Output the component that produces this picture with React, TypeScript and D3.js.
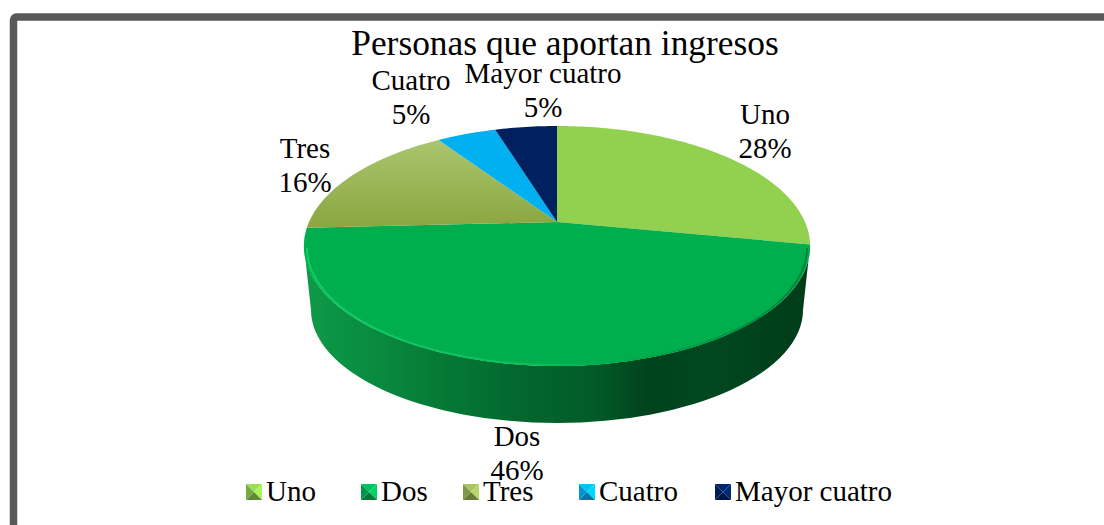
import React from "react";
import * as d3 from "d3";

const categories = ["Uno", "Dos", "Tres", "Cuatro", "Mayor cuatro"];
const values = [28, 46.2, 16.4, 4.6, 4.8];
const percentLabels = ["28%", "46%", "16%", "5%", "5%"];
const topColors = ["#92D050", "#00AE4D", "url(#tresGrad)", "#00B0F0", "#002060"];
const legendBase = ["#84BE48", "#00A650", "#8FA94E", "#00A8E8", "#002060"];
const labelCenters = [765, 517, 305, 411, 543];
const labelBaselines = [124, 446, 158, 90, 83];
const legendIconX = [246, 361, 463, 579, 715];

const W = 1104, H = 525;
const cx = 557, apexY = 222, a = 248, b = 115.2, k = 0.2;

// perspective projection of a point on the unit pie disc
const project = (theta: number, r = 1): [number, number] => {
  const x = r * Math.sin(theta);
  const y = -r * Math.cos(theta);
  const w = 1 - k * y;
  return [cx + (a * x) / w, apexY + (b * y) / w];
};

const arcs = d3.pie<number>().sort(null).startAngle(0).endAngle(2 * Math.PI)(values);
const line = d3.line();

const slicePath = (s: number, e: number) => {
  const n = Math.max(4, Math.ceil((e - s) / 0.02));
  const pts: [number, number][] = [[cx, apexY]];
  d3.range(n + 1).forEach((i) => pts.push(project(s + ((e - s) * i) / n)));
  return line(pts) + "Z";
};

const rimY = 246, rimRx = 253, rimRy = 120;
const baseY = 310, baseRx = 246, baseRy = 113;
const wallPath =
  `M${cx + rimRx},${rimY}A${rimRx},${rimRy} 0 0 1 ${cx - rimRx},${rimY}` +
  `L${cx - baseRx},${baseY}A${baseRx},${baseRy} 0 0 0 ${cx + baseRx},${baseY}Z`;
const rimFront = `M${cx + rimRx - 3},${rimY + 2}A${rimRx - 3},${rimRy - 3} 0 0 1 ${cx - rimRx + 3},${rimY + 2}`;

const wallStops: [number, string][] = [
  [0, "#0E9A48"], [0.1, "#0A8F42"], [0.25, "#067C38"], [0.42, "#03682E"],
  [0.58, "#025A28"], [0.68, "#00421C"], [0.8, "#00481F"], [1, "#003C18"],
];

const textStyle = { fontFamily: "'Liberation Serif', serif", fill: "#000" };

function LegendIcon({ x, y, c }: { x: number; y: number; c: string }) {
  const s = 16, col = d3.color(c)!;
  const m = 8;
  const tri = (p: number[][], f: string) => <polygon points={p.map((q) => q.join(",")).join(" ")} fill={f} />;
  return (
    <g transform={`translate(${x},${y})`}>
      {tri([[0, 0], [s, 0], [m, m]], col.brighter(0.45).toString())}
      {tri([[0, 0], [0, s], [m, m]], col.darker(0.3).toString())}
      {tri([[s, 0], [s, s], [m, m]], col.brighter(0.7).toString())}
      {tri([[0, s], [s, s], [m, m]], col.darker(0.9).toString())}
    </g>
  );
}

export default function App() {
  return (
    <svg width={W} height={H} viewBox={`0 0 ${W} ${H}`} style={{ position: "absolute", left: 0, top: 0, display: "block" }}>
      <defs>
        <linearGradient id="tresGrad" gradientUnits="userSpaceOnUse" x1="0" y1="141" x2="0" y2="228">
          <stop offset="0" stopColor="#AAC66E" />
          <stop offset="1" stopColor="#8AA640" />
        </linearGradient>
        <linearGradient id="wallGrad" gradientUnits="userSpaceOnUse" x1={cx - rimRx} y1="0" x2={cx + rimRx} y2="0">
          {wallStops.map(([o, c]) => <stop key={o} offset={o} stopColor={c} />)}
        </linearGradient>
        <linearGradient id="rimGrad" gradientUnits="userSpaceOnUse" x1={cx - rimRx} y1="0" x2={cx + rimRx} y2="0">
          <stop offset="0" stopColor="#0CD066" />
          <stop offset="0.45" stopColor="#0CC05C" />
          <stop offset="0.65" stopColor="#00A84A" />
          <stop offset="1" stopColor="#00803A" />
        </linearGradient>
        <filter id="soft" x="-5%" y="-5%" width="110%" height="110%">
          <feGaussianBlur stdDeviation="0.7" />
        </filter>
      </defs>
      <rect width={W} height={H} fill="#fff" />
      <rect x={13.5} y={17} width={W + 40} height={H + 40} rx={3} fill="none" stroke="#595959" strokeWidth={7.5} />

      <path d={wallPath} fill="url(#wallGrad)" />
      {arcs.map((d, i) => (
        <path key={categories[i]} d={slicePath(d.startAngle, d.endAngle)} fill={topColors[i]} />
      ))}
      <path d={rimFront} fill="none" stroke="url(#rimGrad)" strokeWidth={1.8} filter="url(#soft)" />

      <text x={565} y={55} textAnchor="middle" fontSize={35.4} style={textStyle}>Personas que aportan ingresos</text>

      {categories.map((c, i) => (
        <g key={c}>
          <text x={labelCenters[i]} y={labelBaselines[i]} textAnchor="middle" fontSize={29} style={textStyle}>{c}</text>
          <text x={labelCenters[i]} y={labelBaselines[i] + 34} textAnchor="middle" fontSize={29} style={textStyle}>{percentLabels[i]}</text>
        </g>
      ))}

      {categories.map((c, i) => (
        <g key={"l" + c}>
          <LegendIcon x={legendIconX[i]} y={484} c={legendBase[i]} />
          <text x={legendIconX[i] + 20} y={501} fontSize={29} style={textStyle}>{c}</text>
        </g>
      ))}
    </svg>
  );
}
